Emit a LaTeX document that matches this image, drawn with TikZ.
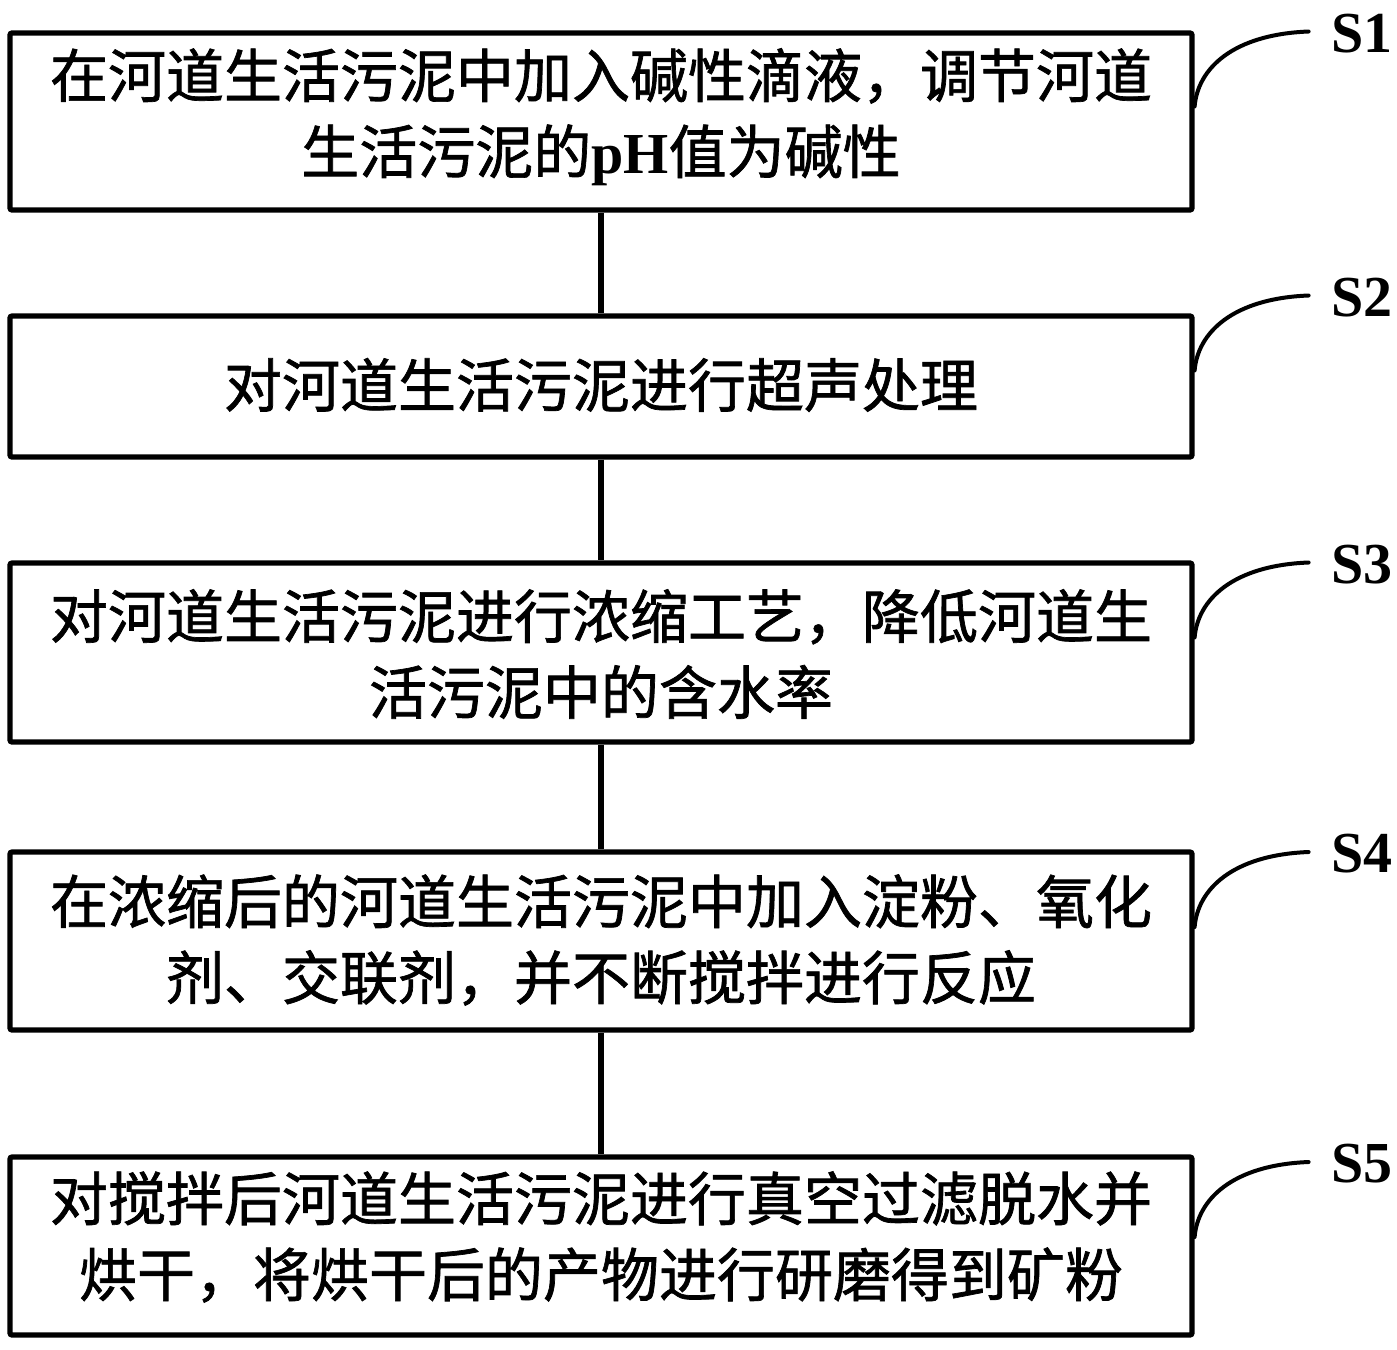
\documentclass[tikz,border=0pt]{standalone}
\usepackage{fontspec}
\setmainfont{Noto Sans CJK SC}[FakeBold=1.2]
\newfontfamily\lat{Liberation Serif}
\usetikzlibrary{calc}
\tikzset{
  stepbox/.style={draw=black, line width=2.6pt, rounded corners=1pt, minimum width=591pt, inner sep=0pt},
  steptext/.style={align=center, inner sep=0pt, font=\fontsize{29pt}{38pt}\selectfont},
  link/.style={draw=black, line width=2.6pt},
  leader/.style={draw=black, line width=2pt, line cap=round},
  steplabel/.style={anchor=west, inner sep=0pt, font=\lat\bfseries\fontsize{29pt}{29pt}\selectfont}
}
\newcommand{\pHtxt}{{\lat\bfseries pH}}
\begin{document}
\begin{tikzpicture}[x=0.5pt,y=-0.5pt]
\useasboundingbox (0,0) rectangle (1397,1349);
% boxes
\node[stepbox, minimum height=88.5pt] (b1) at (601,121.5) {};
\node[stepbox, minimum height=70.5pt] (b2) at (601,386.5) {};
\node[stepbox, minimum height=89.5pt] (b3) at (601,652.5) {};
\node[stepbox, minimum height=89pt] (b4) at (601,941) {};
\node[stepbox, minimum height=89pt] (b5) at (601,1246) {};
% texts
\node[steptext] (t1) at (601,117) {在河道生活污泥中加入碱性滴液，调节河道\\生活污泥的\pHtxt 值为碱性};
\node[steptext] (t2) at (601,385) {对河道生活污泥进行超声处理};
\node[steptext] (t3) at (601,654) {对河道生活污泥进行浓缩工艺，降低河道生\\活污泥中的含水率};
\node[steptext] (t4) at (601,940) {在浓缩后的河道生活污泥中加入淀粉、氧化\\剂、交联剂，并不断搅拌进行反应};
\node[steptext] (t5) at (601,1237) {对搅拌后河道生活污泥进行真空过滤脱水并\\烘干，将烘干后的产物进行研磨得到矿粉};
% connectors
\draw[link] (b1) -- (b2);
\draw[link] (b2) -- (b3);
\draw[link] (b3) -- (b4);
\draw[link] (b4) -- (b5);
% leaders and labels
\foreach \i/\off in {1/-15, 2/-16, 3/-15, 4/-14, 5/-9}{
  \coordinate (s\i) at ($(b\i.east)+(0,\off)$);
  \coordinate (e\i) at ($(s\i)+(114,-75)$);
  \draw[leader] (s\i) .. controls +(3,-37) and +(-77,3) .. (e\i);
  \node[steplabel] (l\i) at ($(e\i)+(22,2)$) {S\i};
}
\end{tikzpicture}
\end{document}
